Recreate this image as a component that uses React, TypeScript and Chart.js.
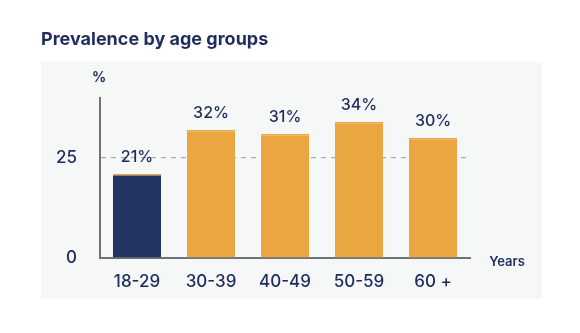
import React, { useEffect, useRef } from "react";
import { Chart, registerables } from "chart.js";

Chart.register(...registerables);

const categories = ["18-29", "30-39", "40-49", "50-59", "60 +"];
const values = [21, 32, 31, 34, 30];
const yTicks = [0, 25];
const highlightIndex = 0;

const NAVY = "#1e2c5e";
const BAR_NAVY = "#223461";
const ORANGE = "#eaa640";
const PANEL = "#f6f8f8";
const AXIS = "#6e737b";
const GRID = "#a9abad";
const FONT = "Inter, 'Noto Sans', sans-serif";

const decorPlugin = {
  id: "decor",
  beforeDraw(chart: any) {
    const { ctx } = chart;
    ctx.save();
    ctx.fillStyle = "#ffffff";
    ctx.fillRect(0, 0, chart.width, chart.height);
    ctx.fillStyle = PANEL;
    ctx.fillRect(41, 62, 501, 237);
    ctx.fillStyle = NAVY;
    ctx.font = `700 18px ${FONT}`;
    ctx.textAlign = "left";
    ctx.textBaseline = "middle";
    ctx.fillText("Prevalence by age groups", 41, 40);
    ctx.restore();
  },
  afterDraw(chart: any) {
    const { ctx, chartArea } = chart;
    ctx.save();
    ctx.fillStyle = NAVY;
    ctx.textBaseline = "middle";
    ctx.textAlign = "center";
    ctx.font = `700 14px ${FONT}`;
    ctx.fillText("%", chartArea.left - 1, 78);
    ctx.font = `600 13px ${FONT}`;
    ctx.fillText("Years", 507, 262);
    ctx.restore();
  },
  afterDatasetsDraw(chart: any) {
    const { ctx } = chart;
    const meta = chart.getDatasetMeta(0);
    ctx.save();
    ctx.fillStyle = NAVY;
    ctx.font = `500 16px ${FONT}`;
    ctx.textAlign = "center";
    ctx.textBaseline = "middle";
    meta.data.forEach((bar: any, i: number) => {
      ctx.fillText(`${values[i]}%`, bar.x, bar.y - 17);
    });
    ctx.restore();
  },
};

export default function App() {
  const ref = useRef<HTMLCanvasElement | null>(null);
  useEffect(() => {
    if (!ref.current) return;
    const chart = new Chart(ref.current, {
      type: "bar",
      data: {
        labels: categories,
        datasets: [
          {
            data: values,
            backgroundColor: values.map((_, i) => (i === highlightIndex ? BAR_NAVY : ORANGE)),
            borderColor: ORANGE,
            borderWidth: { top: 1.5, left: 0, right: 0, bottom: 0 },
            borderSkipped: false,
            categoryPercentage: 1,
            barPercentage: 0.65,
          },
        ],
      },
      options: {
        responsive: false,
        animation: false,
        devicePixelRatio: 1,
        layout: { padding: { left: 0, right: 110, top: 98, bottom: 0 } },
        plugins: { legend: { display: false }, tooltip: { enabled: false } },
        scales: {
          x: {
            grid: { display: false, drawTicks: false },
            border: { display: true, color: AXIS, width: 2 },
            ticks: { color: NAVY, font: { family: FONT, size: 17, weight: "500" }, padding: 14 },
            afterFit: (s: any) => {
              s.height = 75;
            },
          },
          y: {
            min: 0,
            max: 40,
            afterBuildTicks: (s: any) => {
              s.ticks = yTicks.map((v) => ({ value: v }));
            },
            grid: {
              drawTicks: false,
              color: (c: any) => (c.tick && c.tick.value === 25 ? GRID : "rgba(0,0,0,0)"),
              lineWidth: 1.2,
            },
            border: { display: true, color: AXIS, width: 2, dash: [5, 5] },
            ticks: { color: NAVY, font: { family: FONT, size: 17, weight: "500" }, padding: 23 },
            afterFit: (s: any) => {
              s.width = 100;
            },
          },
        },
      },
      plugins: [decorPlugin],
    });
    return () => chart.destroy();
  }, []);
  return (
    <div style={{ position: "absolute", left: 0, top: 0, width: 580, height: 333 }}>
      <canvas ref={ref} width={580} height={333} />
    </div>
  );
}
